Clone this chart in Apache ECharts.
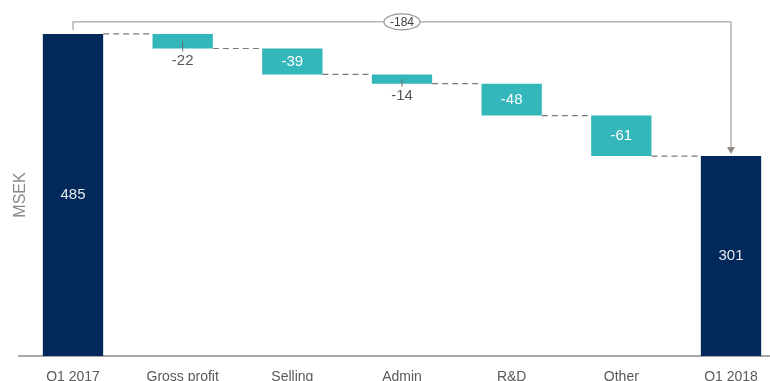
<!DOCTYPE html>
<html>
<head>
<meta charset="utf-8">
<script src="https://cdn.jsdelivr.net/npm/echarts@6/dist/echarts.min.js"></script>
<style>
  html, body { margin: 0; padding: 0; background: #fff; }
  #chart { width: 770px; height: 381px; }
</style>
</head>
<body>
<div id="chart"></div>
<script>
// waterfall: MSEK bridge Q1 2017 -> Q1 2018
var categories = ['Q1 2017', 'Gross profit', 'Selling', 'Admin', 'R&D', 'Other', 'Q1 2018'];
var values = [485, -22, -39, -14, -48, -61, 301];
var isTotal = [true, false, false, false, false, false, true];

var NAVY = '#02295a';
var TEAL = '#33b7bb';
var FONT = 'Liberation Sans, Arial, sans-serif';

// build low/high of every bar from the running total
var barData = [];
var running = 0;
for (let i = 0; i < values.length; i++) {
    let low, high, end;
    if (isTotal[i]) {
        low = 0; high = values[i]; end = values[i];
    } else {
        let next = running + values[i];
        low = Math.min(running, next); high = Math.max(running, next); end = next;
    }
    running = end;
    barData.push([i, low, high, values[i], end, isTotal[i] ? 1 : 0]);
}

function renderBar(params, api) {
    var i = api.value(0);
    var low = api.value(1), high = api.value(2), val = api.value(3), end = api.value(4);
    var total = api.value(5) === 1;
    var cx = api.coord([i, 0])[0];
    var step = api.size([1, 0])[0];
    var w = step * 0.55;
    var yTop = api.coord([i, high])[1];
    var yBot = api.coord([i, low])[1];
    var h = yBot - yTop;
    var children = [];
    if (i === 0) {
        // baseline spanning half a step beyond the first and last category
        var last = api.coord([categories.length - 1, 0])[0];
        var y0 = api.coord([0, 0])[1];
        children.push({
            type: 'line',
            shape: { x1: cx - step / 2, y1: y0, x2: last + step / 2, y2: y0 },
            style: { stroke: '#8a8a8a', lineWidth: 1.3 }
        });
    }
    children.push({
        type: 'rect',
        shape: { x: cx - w / 2, y: yTop, width: w, height: h },
        style: { fill: total ? NAVY : TEAL }
    });
    if (h > 20) {
        children.push({
            type: 'text',
            style: {
                text: String(val), x: cx, y: (yTop + yBot) / 2,
                align: 'center', verticalAlign: 'middle',
                fill: total ? '#e4e8ee' : '#ffffff', font: '15px ' + FONT
            }
        });
    } else {
        children.push({
            type: 'line',
            shape: { x1: cx, y1: (yTop + yBot) / 2, x2: cx, y2: yBot + 3 },
            style: { stroke: '#6b6b6b', lineWidth: 1 }
        });
        children.push({
            type: 'text',
            style: {
                text: String(val), x: cx, y: yBot + 12,
                align: 'center', verticalAlign: 'middle',
                fill: '#595959', font: '15px ' + FONT
            }
        });
    }
    if (i < categories.length - 1) {
        var yEnd = api.coord([i, end])[1];
        var nx = api.coord([i + 1, 0])[0];
        children.push({
            type: 'line',
            shape: { x1: cx + w / 2, y1: yEnd, x2: nx - w / 2, y2: yEnd },
            style: { stroke: '#7a7a7a', lineWidth: 1.2, lineDash: [6, 4] }
        });
    }
    return { type: 'group', children: children };
}

// bracket from first total to last total with the difference
function renderBracket(params, api) {
    var a = api.value(0), b = api.value(1);
    var va = values[a], vb = values[b];
    var pa = api.coord([a, va]);
    var pb = api.coord([b, vb]);
    var yLine = Math.min(pa[1], pb[1]) - 12;
    var col = '#aba6a1';
    var midX = (pa[0] + pb[0]) / 2;
    return {
        type: 'group',
        children: [
            { type: 'polyline', shape: { points: [[pa[0], pa[1] - 4], [pa[0], yLine], [pb[0], yLine], [pb[0], pb[1] - 8]] },
              style: { stroke: col, lineWidth: 1.3, fill: null } },
            { type: 'polygon', shape: { points: [[pb[0] - 4, pb[1] - 9], [pb[0] + 4, pb[1] - 9], [pb[0], pb[1] - 2]] },
              style: { fill: '#8f8a86' } },
            { type: 'ellipse', shape: { cx: midX, cy: yLine, rx: 18, ry: 8 },
              style: { fill: '#fff', stroke: '#9a9591', lineWidth: 1.2 } },
            { type: 'text', style: { text: String(vb - va), x: midX, y: yLine + 1, align: 'center', verticalAlign: 'middle',
              fill: '#404040', font: '12px ' + FONT } }
        ]
    };
}

var chart = echarts.init(document.getElementById('chart'));
chart.setOption({
    animation: false,
    grid: { left: 73, right: 39, top: 4, bottom: 25, outerBoundsMode: 'none' },
    xAxis: {
        type: 'category',
        data: categories,
        boundaryGap: false,
        axisLine: { show: false },
        axisTick: { show: false },
        axisLabel: { color: '#595959', fontSize: 14, fontFamily: FONT, margin: 14, interval: 0 }
    },
    yAxis: {
        type: 'value',
        min: 0,
        max: 530,
        show: false
    },
    graphic: [{
        type: 'text',
        x: 21, y: 195, rotation: Math.PI / 2,
        style: { text: 'MSEK', align: 'center', verticalAlign: 'middle', fill: '#8a8a8a', font: '16px ' + FONT }
    }],
    series: [
        { type: 'custom', renderItem: renderBar, data: barData, clip: false },
        { type: 'custom', renderItem: renderBracket, data: [[0, 6]], clip: false }
    ]
});
</script>
</body>
</html>
